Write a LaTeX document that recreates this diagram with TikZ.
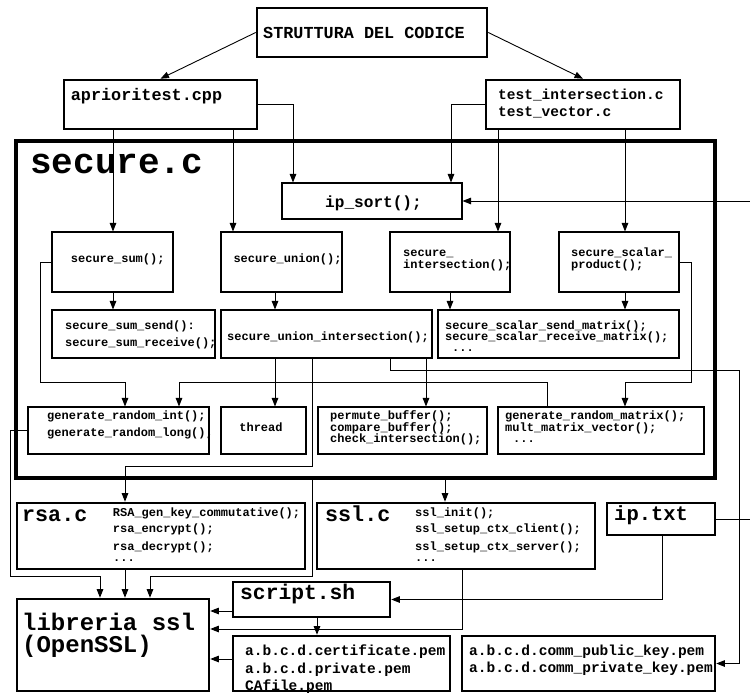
\documentclass[tikz,border=0pt]{standalone}
\usepackage{fontspec}
\setmonofont{Liberation Mono}
\usetikzlibrary{arrows.meta}

% box from corner (x1,y1) to corner (x2,y2)
\newcommand\mkbox[6]{%
  \node[#6, minimum width={(#4-#2)*1pt}, minimum height={(#5-#3)*1pt}]
    (#1) at ({(#2+#4)/2},{(#3+#5)/2}) {};}
\newcommand\setfs[1]{\fontsize{#1}{#1}\selectfont}

\begin{document}
\begin{tikzpicture}[x=1pt,y=-1pt,
  thickbox/.style={draw, rectangle, inner sep=0pt, line width=2.6pt},
  thinbox/.style={draw, rectangle, inner sep=0pt, line width=1.1pt},
  framebox/.style={draw, rectangle, inner sep=0pt, line width=3.2pt},
  txt/.style={inner sep=0pt, anchor=base west, font=\ttfamily\bfseries},
  conn/.style={draw, line width=0.9pt},
  arr/.style={conn, -{Triangle[length=8.5pt,width=6.5pt]}}]
\useasboundingbox (0,0) rectangle (750,693);

% ---------- boxes ----------
\mkbox{title}{257}{8}{487}{57}{thickbox}
\mkbox{aprio}{64}{80}{257}{129}{thickbox}
\mkbox{tests}{486}{80}{680}{129}{thickbox}
\mkbox{secure}{16}{141}{715}{478}{framebox}
\mkbox{ipsort}{282}{183}{462}{219}{thinbox}
\mkbox{sum}{52}{232}{173}{292}{thinbox}
\mkbox{union}{221}{232}{342}{292}{thinbox}
\mkbox{inter}{390}{232}{510}{292}{thinbox}
\mkbox{scalar}{559}{232}{679}{292}{thinbox}
\mkbox{sumsend}{52}{310}{215}{358}{thinbox}
\mkbox{sui}{221}{310}{432}{358}{thinbox}
\mkbox{scsend}{438}{310}{679}{358}{thinbox}
\mkbox{rndint}{28}{407}{209}{454}{thinbox}
\mkbox{thread}{221}{407}{306}{454}{thinbox}
\mkbox{perm}{318}{407}{487}{454}{thinbox}
\mkbox{rndmat}{498}{407}{704}{454}{thinbox}
\mkbox{rsa}{17}{503}{305}{569}{thickbox}
\mkbox{ssl}{317}{503}{595}{569}{thickbox}
\mkbox{iptxt}{607}{503}{715}{535}{thickbox}
\mkbox{lib}{17}{599}{209}{691}{thickbox}
\mkbox{script}{233}{582}{390}{617}{thickbox}
\mkbox{pem}{233}{636}{450}{691}{thickbox}
\mkbox{comm}{462}{636}{715}{691}{thickbox}

% ---------- texts ----------
\node[txt, font=\ttfamily\bfseries\setfs{16.8}] (t-title) at (263,38.7) {STRUTTURA DEL CODICE};
\node[txt, font=\ttfamily\bfseries\setfs{16.8}] (t-aprio) at (70.7,100) {aprioritest.cpp};
\node[txt, font=\ttfamily\bfseries\setfs{14.5}] (t-tests1) at (498,99.5) {test\_intersection.c};
\node[txt, font=\ttfamily\bfseries\setfs{14.5}] (t-tests2) at (498,117) {test\_vector.c};
\node[txt, font=\ttfamily\bfseries\setfs{36}] (t-secure) at (30,173) {secure.c};
\node[txt, font=\ttfamily\bfseries\setfs{16.1}] (t-ipsort) at (325,207.5) {ip\_sort();};

\node[txt, font=\ttfamily\bfseries\setfs{12}] (t-sum) at (70.7,262.5) {secure\_sum();};
\node[txt, font=\ttfamily\bfseries\setfs{12}] (t-union) at (233.3,262.5) {secure\_union();};
\node[txt, font=\ttfamily\bfseries\setfs{12}] (t-inter1) at (403,256) {secure\_};
\node[txt, font=\ttfamily\bfseries\setfs{12}] (t-inter2) at (403,268) {intersection();};
\node[txt, font=\ttfamily\bfseries\setfs{12}] (t-scalar1) at (571,256) {secure\_scalar\_};
\node[txt, font=\ttfamily\bfseries\setfs{12}] (t-scalar2) at (571,268) {product();};

\node[txt, font=\ttfamily\bfseries\setfs{12}] (t-sumsend1) at (65,329.5) {secure\_sum\_send():};
\node[txt, font=\ttfamily\bfseries\setfs{12}] (t-sumsend2) at (65,346.5) {secure\_sum\_receive();};
\node[txt, font=\ttfamily\bfseries\setfs{12}] (t-sui) at (227,340.5) {secure\_union\_intersection();};
\node[txt, font=\ttfamily\bfseries\setfs{12}] (t-scsend1) at (445,329.5) {secure\_scalar\_send\_matrix();};
\node[txt, font=\ttfamily\bfseries\setfs{12}] (t-scsend2) at (445,340.5) {secure\_scalar\_receive\_matrix();};
\node[txt, font=\ttfamily\bfseries\setfs{12}] (t-scsend3) at (452,351.5) {...};

\node[txt, font=\ttfamily\bfseries\setfs{12}] (t-rndint1) at (47,419.5) {generate\_random\_int();};
\node[txt, font=\ttfamily\bfseries\setfs{12}] (t-rndint2) at (47,436.5) {generate\_random\_long();};
\node[txt, anchor=base, font=\ttfamily\bfseries\setfs{12}] (t-thread) at (261,431.5) {thread};
\node[txt, font=\ttfamily\bfseries\setfs{12}] (t-perm1) at (330,419.5) {permute\_buffer();};
\node[txt, font=\ttfamily\bfseries\setfs{12}] (t-perm2) at (330,431.5) {compare\_buffer();};
\node[txt, font=\ttfamily\bfseries\setfs{12}] (t-perm3) at (330,442.5) {check\_intersection();};
\node[txt, font=\ttfamily\bfseries\setfs{12}] (t-rndmat1) at (505,419.5) {generate\_random\_matrix();};
\node[txt, font=\ttfamily\bfseries\setfs{12}] (t-rndmat2) at (505,431.5) {mult\_matrix\_vector();};
\node[txt, font=\ttfamily\bfseries\setfs{12}] (t-rndmat3) at (513,442) {...};

\node[txt, font=\ttfamily\bfseries\setfs{21.7}] (t-rsa) at (22,521.7) {rsa.c};
\node[txt, font=\ttfamily\bfseries\setfs{12}] (t-rsa1) at (112.7,516.5) {RSA\_gen\_key\_commutative();};
\node[txt, font=\ttfamily\bfseries\setfs{12}] (t-rsa2) at (112.7,532.5) {rsa\_encrypt();};
\node[txt, font=\ttfamily\bfseries\setfs{12}] (t-rsa3) at (112.7,550.5) {rsa\_decrypt();};
\node[txt, font=\ttfamily\bfseries\setfs{12}] (t-rsa4) at (113,561) {...};

\node[txt, font=\ttfamily\bfseries\setfs{21.7}] (t-ssl) at (325,521.7) {ssl.c};
\node[txt, font=\ttfamily\bfseries\setfs{12}] (t-ssl1) at (415,516.5) {ssl\_init();};
\node[txt, font=\ttfamily\bfseries\setfs{12}] (t-ssl2) at (415,532.5) {ssl\_setup\_ctx\_client();};
\node[txt, font=\ttfamily\bfseries\setfs{12}] (t-ssl3) at (415,550.5) {ssl\_setup\_ctx\_server();};
\node[txt, font=\ttfamily\bfseries\setfs{12}] (t-ssl4) at (415,561) {...};

\node[txt, font=\ttfamily\bfseries\setfs{20.5}] (t-iptxt) at (614,520) {ip.txt};
\node[txt, font=\ttfamily\bfseries\setfs{21.3}] (t-script) at (240,599.3) {script.sh};
\node[txt, font=\ttfamily\bfseries\setfs{24}] (t-lib1) at (22,630) {libreria ssl};
\node[txt, font=\ttfamily\bfseries\setfs{24}] (t-lib2) at (22,652) {(OpenSSL)};
\node[txt, font=\ttfamily\bfseries\setfs{14.5}] (t-pem1) at (245,655) {a.b.c.d.certificate.pem};
\node[txt, font=\ttfamily\bfseries\setfs{14.5}] (t-pem2) at (245,673) {a.b.c.d.private.pem};
\node[txt, font=\ttfamily\bfseries\setfs{14.5}] (t-pem3) at (245,690) {CAfile.pem};
\node[txt, font=\ttfamily\bfseries\setfs{14.5}] (t-comm1) at (469,655) {a.b.c.d.comm\_public\_key.pem};
\node[txt, font=\ttfamily\bfseries\setfs{14.5}] (t-comm2) at (469,672) {a.b.c.d.comm\_private\_key.pem};

% ---------- free ends at the right border ----------
\coordinate (ipin) at (750,201);
\coordinate (ipout) at (750,519);

% ---------- connectors ----------
\draw[arr] (title.west) -- (aprio.north);
\draw[arr] (title.east) -- (tests.north);
\draw[arr] (aprio.east) -| (293,0 |- ipsort.north);
\draw[arr] (tests.west) -| (451,0 |- ipsort.north);
\draw[arr] (ipin) -- (ipsort.east);

\draw[arr] (113,0 |- aprio.south) -- (113,0 |- sum.north);
\draw[arr] (233,0 |- aprio.south) -- (233,0 |- union.north);
\draw[arr] (498,0 |- tests.south) -- (498,0 |- inter.north);
\draw[arr] (625,0 |- tests.south) -- (625,0 |- scalar.north);

\draw[arr] (113,0 |- sum.south) -- (113,0 |- sumsend.north);
\draw[arr] (275,0 |- union.south) -- (275,0 |- sui.north);
\draw[arr] (450,0 |- inter.south) -- (450,0 |- scsend.north);
\draw[arr] (625,0 |- scalar.south) -- (625,0 |- scsend.north);

\draw[arr] (sum.west) -- (40,0 |- sum.west) |- (125,382) -- (125,0 |- rndint.north);
\draw[arr] (547,0 |- rndmat.north) |- (179,382) -- (179,0 |- rndint.north);
\draw[arr] (scalar.east) -- (691,0 |- scalar.east) |- (625,382) -- (625,0 |- rndmat.north);

\draw[arr] (275,0 |- sui.south) -- (275,0 |- thread.north);
\draw[arr] (426,0 |- sui.south) -- (426,0 |- perm.north);
\draw[arr] (312,0 |- sui.south) |- (125,466) -- (125,0 |- rsa.north);
\draw[arr] (390,0 |- sui.south) |- (739,370) |- (comm.east);

\draw[arr] (445,0 |- secure.south) -- (445,0 |- ssl.north);
\draw[arr] (312,0 |- secure.south) |- (150,576) -- (150,0 |- lib.north);
\draw[arr] (rndint.west) -- (10,0 |- rndint.west) |- (100,576) -- (100,0 |- lib.north);
\draw[arr] (125,0 |- rsa.south) -- (125,0 |- lib.north);

\draw[arr] (script.west |- 0,611) -- (lib.east |- 0,611);
\draw[arr] (462,0 |- ssl.south) |- (lib.east |- 0,629);
\draw[arr] (pem.west |- 0,659) -- (lib.east |- 0,659);
\draw[arr] (317,0 |- script.south) -- (317,0 |- pem.north);
\draw[arr] (662,0 |- iptxt.south) |- (script.east);
\draw[conn] (iptxt.east) -- (ipout);
\end{tikzpicture}
\end{document}
